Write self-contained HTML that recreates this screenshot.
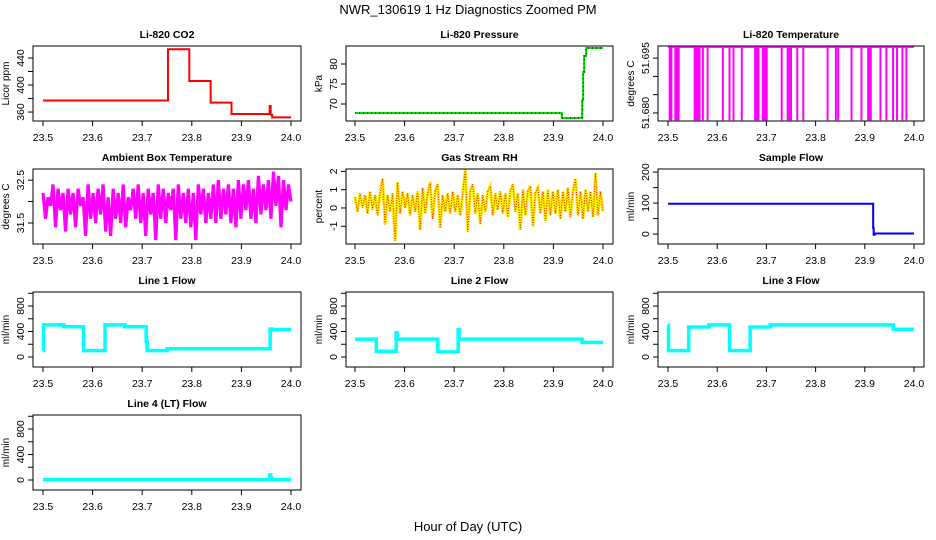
<!DOCTYPE html>
<html><head><meta charset="utf-8"><style>
html,body{margin:0;padding:0;background:#fff}
svg{display:block;font-family:"Liberation Sans",sans-serif}
</style></head><body>
<svg id="chart" width="936" height="540" viewBox="0 0 936 540" xmlns="http://www.w3.org/2000/svg">
<text x="468" y="14" font-size="13" text-anchor="middle">NWR_130619  1 Hz Diagnostics Zoomed PM</text>
<text x="468" y="531" font-size="13" text-anchor="middle">Hour of Day (UTC)</text>
</svg>
<script>
const xTicks=[23.5,23.6,23.7,23.8,23.9,24.0];
const xTickLabels=["23.5","23.6","23.7","23.8","23.9","24.0"];
const co2T=[23.5,23.752,23.795,23.838,23.88,23.957,23.959,23.962];
const co2V=[377,453,406,374,357,369,356,352];
const presT=[23.5,23.917,23.958,23.96,23.962,23.966];
const presV=[67.75,66.5,71,78,82,84];
const tempTop=51.698, tempLow=51.678;
const tempDrops=[23.5034,23.5068,23.5149,23.5182,23.5216,23.5541,23.5574,23.5608,23.5642,23.5709,23.5804,23.6115,23.625,23.6331,23.65,23.677,23.6804,23.6838,23.6926,23.6953,23.6986,23.7007,23.7311,23.7432,23.7466,23.75,23.7628,23.775,23.8243,23.8412,23.8459,23.873,23.8932,23.9068,23.9101,23.9122,23.9318,23.9439,23.9574,23.9655,23.9764,23.9845];
const ambV=[32.2,31.6,32.1,31.9,32.4,31.4,32.3,31.8,32.2,31.3,
32.3,31.7,32.2,31.4,32.3,31.9,32.1,31.2,32.4,31.6,
32.2,31.5,32.3,31.7,32.4,31.3,32.1,31.2,32.3,31.6,
32.2,31.5,32.4,31.4,32.1,31.8,32.3,31.6,32.4,31.5,
32.2,31.2,32.3,31.7,32.2,31.1,32.4,31.6,32.3,31.5,
32.2,31.8,32.3,31.1,32.4,31.6,32.2,31.5,32.3,31.4,
32.2,31.1,32.4,31.7,32.3,31.5,32.2,31.6,32.4,31.5,
32.5,31.6,32.3,31.7,32.4,31.5,32.3,31.4,32.5,31.6,
32.4,31.8,32.5,31.6,32.3,31.5,32.6,31.7,32.4,31.8,
32.5,31.6,32.7,31.9,32.6,31.4,32.5,31.8,32.4,32.0];
const rhV=[0.6,-0.2,0.8,0.0,0.7,-0.3,0.9,-0.1,0.7,-0.4,
0.8,1.6,-0.9,0.7,-0.2,0.8,-1.8,1.4,-0.3,0.9,
0.0,0.8,-0.4,0.7,-0.2,0.9,-1.2,1.1,-0.3,0.8,
1.4,-0.6,0.9,1.3,-1.1,0.7,-0.2,0.8,-0.3,0.9,
-0.2,0.7,-0.4,0.8,2.1,-1.3,0.9,1.3,-0.3,0.8,
-0.9,0.7,-0.2,0.9,1.2,-0.4,0.8,-0.1,0.9,-0.3,
0.8,-0.5,0.9,1.3,-0.2,0.8,-1.2,1.0,-0.4,0.9,
1.2,-1.0,0.8,1.1,-0.3,0.9,-0.7,1.0,-0.4,0.9,
-0.3,1.0,-0.6,0.9,-0.2,1.1,-0.5,0.9,1.6,-0.4,
0.9,-0.6,1.0,-0.2,0.9,-0.5,1.9,-0.4,0.9,-0.2];
const sfT=[23.5,23.917,23.918,23.92];
const sfV=[98,20,-2,2];
const l1T=[23.5,23.501,23.542,23.582,23.625,23.665,23.708,23.71,23.75,23.958,23.962];
const l1V=[100,505,475,100,505,475,250,100,130,440,430];
const l2T=[23.5,23.543,23.583,23.585,23.667,23.708,23.71,23.958];
const l2V=[280,90,380,280,80,430,280,230];
const l3T=[23.5,23.501,23.542,23.583,23.625,23.667,23.708,23.958];
const l3V=[500,100,470,505,100,470,505,435];
const l4T=[23.5,23.957,23.959,23.962];
const l4V=[5,80,25,5];

const NS="http://www.w3.org/2000/svg";
const svg=document.getElementById('chart');
function mk(tag,at,parent){const e=document.createElementNS(NS,tag);for(const k in at)e.setAttribute(k,at[k]);(parent||svg).appendChild(e);return e;}

const colX=[[33,301,43,291],[346,613,355,603],[658,924,668,914]];
const rowY=[46,169,292,415];
const H=75;

function panel(name,title,col,row,ylim,yTicks,yLabels,ylab){
  const [bl,br,x0,x1]=colX[col];const top=rowY[row],bot=top+H;
  const g=mk('g',{});
  
  
  const sx=t=>x0+(t-23.5)/(0.5)*(x1-x0);
  const sy=v=>bot-(v-ylim[0])/(ylim[1]-ylim[0])*H;
  const tt=mk('text',{x:(bl+br)/2,y:top-8,'font-size':10.5,'font-weight':'bold','text-anchor':'middle'},g);
  tt.textContent=title;
  
  
  const box=mk('rect',{x:bl,y:top,width:br-bl,height:H,fill:'none',stroke:'#000','stroke-width':1},g);
  
  
  const xa=mk('g',{},g);
  
  
  xTicks.forEach((t,i)=>{mk('line',{x1:sx(t),x2:sx(t),y1:bot,y2:bot+5,stroke:'#000'},xa);
    const l=mk('text',{x:sx(t),y:bot+20,'font-size':10.5,'text-anchor':'middle'},xa);l.textContent=xTickLabels[i];});
  const ya=mk('g',{},g);
  
  
  yTicks.forEach(v=>{mk('line',{x1:bl-5,x2:bl,y1:sy(v),y2:sy(v),stroke:'#000'},ya);});
  yLabels.forEach(([v,s])=>{const l=mk('text',{x:bl-9,y:sy(v),'font-size':10.5,'text-anchor':'middle',transform:`rotate(-90 ${bl-9} ${sy(v)})`},ya);l.textContent=s;});
  const yl=mk('text',{x:bl-24,y:(top+bot)/2,'font-size':10,'text-anchor':'middle',transform:`rotate(-90 ${bl-24} ${(top+bot)/2})`},g);
  yl.textContent=ylab;
  
  
  return {g,sx,sy};
}
function stepPath(p,T,V){let d='';for(let i=0;i<T.length;i++){const x=p.sx(T[i]),y=p.sy(V[i]);d+=(i?'L'+x+','+y:'M'+x+','+y);const xn=p.sx(i<T.length-1?T[i+1]:24.0);d+='L'+xn+','+y;}return d;}
function evenPath(p,V){let d='';V.forEach((v,i)=>{const t=23.5+i*0.5/(V.length-1);d+=(i?'L':'M')+p.sx(t)+','+p.sy(v);});return d;}

let p,s;
p=panel('co2','Li-820 CO2',0,0,[346.7,457.8],[360,380,400,420,440],[[360,'360'],[400,'400'],[440,'440']],'Licor ppm');
s=mk('path',{d:stepPath(p,co2T,co2V),fill:'none',stroke:'#ff0000','stroke-width':2},p.g);



p=panel('pressure','Li-820 Pressure',1,0,[65.75,84.5],[70,75,80],[[70,'70'],[75,'75'],[80,'80']],'kPa');
s=mk('path',{d:stepPath(p,presT,presV),fill:'none',stroke:'#00dd00','stroke-width':2},p.g);


s=mk('path',{d:stepPath(p,presT,presV),fill:'none',stroke:'#000','stroke-width':1,'stroke-dasharray':'1 3'},p.g);



p=panel('li820-temp','Li-820 Temperature',2,0,[51.6778,51.6983],[51.680,51.685,51.690,51.695],[[51.680,'51.680'],[51.695,'51.695']],'degrees C');
s=mk('line',{x1:p.sx(23.5),x2:p.sx(24.0),y1:p.sy(tempTop),y2:p.sy(tempTop),stroke:'#ff00ff','stroke-width':1.5},p.g);


tempDrops.forEach(t=>{const l=mk('line',{x1:p.sx(t),x2:p.sx(t),y1:p.sy(tempTop),y2:p.sy(tempLow),stroke:'#ff00ff','stroke-width':2},p.g);
  
  });

p=panel('ambient-temp','Ambient Box Temperature',0,1,[31.01,32.76],[31.5,32.0,32.5],[[31.5,'31.5'],[32.5,'32.5']],'degrees C');
s=mk('path',{d:evenPath(p,ambV),fill:'none',stroke:'#ff00ff','stroke-width':3.2},p.g);



p=panel('rh','Gas Stream RH',1,1,[-1.97,2.13],[-1,0,1,2],[[-1,'-1'],[0,'0'],[1,'1'],[2,'2']],'percent');
s=mk('path',{d:evenPath(p,rhV),fill:'none',stroke:'#ffee00','stroke-width':3},p.g);


s=mk('path',{d:evenPath(p,rhV),fill:'none',stroke:'#e02000','stroke-width':1,'stroke-dasharray':'1 1.5'},p.g);



p=panel('sample-flow','Sample Flow',2,1,[-32,210],[0,50,100,150,200],[[0,'0'],[100,'100'],[200,'200']],'ml/min');
s=mk('path',{d:stepPath(p,sfT,sfV),fill:'none',stroke:'#0000ff','stroke-width':2},p.g);



const flowTicks=[0,200,400,600,800,1000],flowLabels=[[0,'0'],[400,'400'],[800,'800']],flowLim=[-157,1020];
[['line1-flow','Line 1 Flow',0,2,l1T,l1V],['line2-flow','Line 2 Flow',1,2,l2T,l2V],['line3-flow','Line 3 Flow',2,2,l3T,l3V],['line4-flow','Line 4 (LT) Flow',0,3,l4T,l4V]].forEach(([n,t,c,r,T,V])=>{
  const q=panel(n,t,c,r,flowLim,flowTicks,flowLabels,'ml/min');
  const e=mk('path',{d:stepPath(q,T,V),fill:'none',stroke:'#00ffff','stroke-width':3.5},q.g);
  
  
});
</script>
</body></html>
